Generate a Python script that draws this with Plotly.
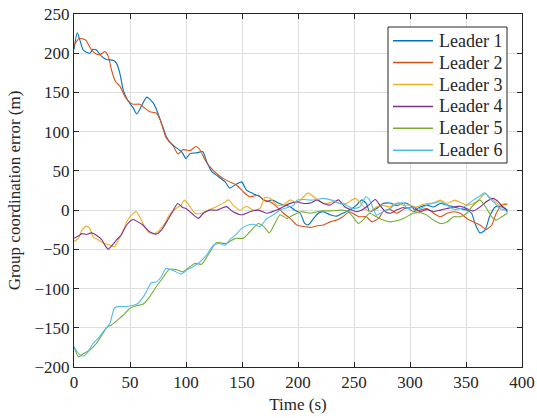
import plotly.graph_objects as go

# ---- data ----
t1 = [0, 3, 8.3, 14, 17, 20, 24.6, 29, 35, 38, 41, 44, 48, 53, 56, 60, 65, 71, 74, 78, 82.5, 85.5, 90, 96, 100, 103.6, 109.5, 115, 118.5, 123, 129, 135, 139, 143.7, 149.7, 154, 160, 166, 172, 176.5, 184, 193, 197, 202, 206, 209, 214, 218, 222.6, 228.6, 234.5, 240, 246, 252, 257, 261, 264, 270, 276, 282, 288, 295.5, 300, 304.5, 309, 315, 321, 327, 333, 339, 345, 350.6, 355, 358, 362.5, 367, 371, 376, 380, 385, 387]
v1 = [205, 226, 204, 200, 205, 204, 196, 192, 191, 187, 174, 153, 140, 130, 122.5, 132, 144, 136, 127, 111, 93.6, 87, 81, 74.5, 66, 72, 73, 74.5, 61.7, 49, 42.6, 36, 28, 32, 36, 25.6, 21, 17, 10.8, 13, 8, 4.4, 0, -4, -17, -19, -10.6, -4, -2, -6, -7.7, -4, 0, 6, 13, 8.5, -2, 2, 8.5, 9, 6, 9, 6.4, 0, 4, 6.4, 4, 8.5, 6.4, 4, 2, 0, -4, -17, -29, -25.5, -8.5, 4, 5, 2, -2]

t2 = [0, 4.7, 8.3, 11, 14, 18.7, 23, 27.6, 30.6, 33.5, 37, 41, 45.4, 50, 53, 58.8, 63, 67.7, 73.6, 77, 82.5, 88.4, 93, 97, 100, 103.6, 109, 112.5, 117, 121.4, 127, 133, 139, 145, 151, 157, 164.6, 169, 175, 181, 187, 193, 199, 205, 211, 217, 222.6, 228.6, 234.5, 240, 246, 251, 255, 261, 266, 272, 276, 282, 288, 291, 297, 303, 309, 315, 321, 327, 333, 339, 345, 350.6, 356.5, 362.5, 368, 373, 377, 382, 387]
v2 = [210, 219, 218, 216, 208, 200, 198, 202, 196, 178.6, 164, 158, 145, 137, 135, 135, 130, 125.5, 123.4, 115, 91.5, 82, 71.5, 77, 76.6, 75.8, 81, 76.6, 64, 55, 47, 40.5, 36, 32, 23.5, 17, 19, 13, 10.8, 4.4, -4, -10.5, -19, -21, -22, -20, -19, -15, -12.7, -8.5, -2, -6, -8.5, -8.5, -15, -10.6, -2, 1, -4, -2, 3.4, -2, 0, 2, -4, -8.5, -4, -2, -4, -10.6, -15, -19, -24.6, -19, -4, 6.4, 7.6]

t3 = [0, 4, 7, 11, 14, 17, 21.6, 26, 32, 36, 39, 44, 48, 52.7, 55.6, 58.6, 63, 67.5, 72, 76, 81, 85, 91, 95.6, 98.5, 101.5, 103.6, 108, 114, 120, 127, 133, 138, 142, 148, 154, 160, 166, 170.5, 175, 181, 187, 193, 199, 205, 209, 214, 220, 225.6, 231.5, 237.5, 243, 251, 255, 260, 264, 270, 276, 282, 288, 294, 300, 305, 310, 315, 321, 327, 333, 340, 346, 350.6, 356.5, 361, 367, 371, 376, 380, 385, 387]
v3 = [-40, -36, -25.5, -20.4, -23, -34, -38, -41.6, -44.6, -46.7, -40, -25.5, -12.7, -4.2, -2, -8.5, -21, -29, -30, -25.5, -17, -6.4, 2, 6.4, 12.7, 8.5, 4.4, -4, -4, 0, 4.4, 8.6, 13, 6.5, 0, 5, 0, 2, 16, 15, 6.5, 6.5, 13, 9, 17, 22, 17, 10.6, 8.5, 10.6, 8.5, 8.5, 15, 10.6, 2, -2, 4, 6, 4, 9, 6, 6.4, 4, 6.4, 8.5, 9, 12.7, 8.5, 12.7, 9, 6.4, 8.5, 12.7, 21, 17, 10.6, 6.4, 8.5, 7]

t4 = [0, 4, 7, 11, 15.7, 20, 24.6, 27.5, 30.5, 33.4, 38, 42, 47, 52.7, 57, 61.5, 67.5, 73.4, 78, 83.7, 88, 92.6, 97, 100, 105, 111, 115.5, 121, 128, 136, 142, 150, 157, 164.6, 172, 181, 187, 193, 199, 205, 211, 217, 222.6, 228.6, 236, 242, 248, 252, 257, 263, 269, 273, 278, 282, 288, 294, 297, 303, 309, 315, 321, 327, 333, 339, 345, 350.6, 356.5, 362.5, 368, 374, 379, 383, 387]
v4 = [-36, -33, -30, -31, -29, -32, -37.4, -44.6, -49.7, -46, -38, -32, -19, -12, -15, -19, -27.6, -30.6, -25.5, -12.7, -2, 8.5, 3.4, 2, -4, -10.5, -4, 0, 0, 4.4, -2, -6, -2, 0, -4, 0, 4.4, 8.6, 10.6, 8.5, 9, 13, 8.5, 6.4, 13, 4, 0, -2, 0, 6.4, 13.6, 6.4, -2, -4, 0, 3.4, 2, 4, -2, 1, -2, 0, 2, 4, 5, 2, -1, 4, 10.6, 15, 10.6, 4, 0]

t5 = [0, 4, 8.3, 14, 20, 26, 29, 33.4, 39, 44, 50, 55.6, 61.5, 67.5, 73.4, 79, 85, 91, 97, 101.5, 108, 114, 121.4, 127, 136, 144, 151, 157, 164.6, 169, 174.4, 178, 184, 190, 196, 203, 211, 217, 222.6, 230, 239, 245, 249, 254, 258, 264, 270, 276, 282, 288, 294, 297, 303, 309, 315, 321, 327, 333, 339, 345, 350.6, 356.5, 362.5, 368.5, 373, 377, 382, 387]
v5 = [-174, -187, -183, -178.5, -170, -157, -149.6, -146.6, -140, -134, -125, -122, -120, -110.5, -97.7, -87, -75.6, -75.6, -78.6, -74.4, -68, -69, -53, -41.7, -42.5, -36, -36, -27.6, -17, -20.4, -29, -21, -6, -10.5, -6, -2, -4, -2, -1, -1, 0, -2, -8.5, -17, -12.7, -4, -8.5, -12.7, -15, -13.6, -10.6, -8.5, -4, -3.4, -6.4, -12.7, -17, -15, -8.5, -8.5, -4, 6.4, 12.7, 2, -8.5, -12.7, -8.5, -4]

t6 = [0, 4, 8.3, 12.7, 17, 21.6, 26, 32, 36, 39, 45, 51, 57, 63, 69, 73.4, 78, 82, 88, 95.6, 100.6, 106.5, 112.5, 118.5, 124.4, 130, 135, 139, 144, 150, 155.6, 160, 166, 172, 178, 184, 190, 196, 199, 205, 211, 217, 222.6, 230, 237.5, 243, 249, 255, 260.7, 264, 270, 276, 282, 288, 294, 297, 303, 309, 315, 321, 327, 333, 339, 345, 350.6, 356.5, 362.5, 367, 371, 376, 380, 385, 387]
v6 = [-174, -183, -186, -180.6, -170, -163.6, -155, -144.5, -125, -123, -123, -122, -119, -108, -93, -91.5, -85, -74.4, -76.5, -81.6, -76.5, -72, -66, -57, -44.6, -42.5, -44.6, -38, -32, -23, -19, -18, -21, -11, -6, 0, 3, 6, 12.7, 13.6, 12.7, 13.6, 15, 12.7, 8.5, 6.4, 2, 4, 17, 12.7, -6.4, -2, 2, 8.5, 9, 2, 4, 2, 6.4, 9, 10.6, 6.4, 1, 2, 6.4, 12.7, 18, 22, 15, 8.5, 2, 0, -3.4]

names = ["Leader 1", "Leader 2", "Leader 3", "Leader 4", "Leader 5", "Leader 6"]
colors = ["#0072BD", "#D95319", "#EDB120", "#7E2F8E", "#77AC30", "#4DBEEE"]
series = [(t1, v1), (t2, v2), (t3, v3), (t4, v4), (t5, v5), (t6, v6)]

x_ticks = [0, 50, 100, 150, 200, 250, 300, 350, 400]
y_ticks = [-200, -150, -100, -50, 0, 50, 100, 150, 200, 250]

FONT = "Liberation Serif"
INK = "#262626"

W, H = 537, 418
ML, MR, MT, MB = 74, 15, 14, 51
PW, PH = W - ML - MR, H - MT - MB

fig = go.Figure()
for (t, v), n, c in zip(series, names, colors):
    fig.add_trace(go.Scatter(x=t, y=v, mode="lines", name=n, showlegend=False,
                             line=dict(color=c, width=1.1, shape="spline", smoothing=0.6)))

axis_common = dict(showline=True, linecolor=INK, linewidth=1, mirror="ticks",
                   ticks="inside", ticklen=5, tickcolor=INK,
                   showgrid=True, gridcolor="#dedede", gridwidth=1, zeroline=False,
                   automargin=False,
                   tickfont=dict(family=FONT, size=17, color=INK))

# ---- legend box drawn in paper coordinates (pixel offsets from plot corner) ----
def px_x(p):
    return p / PW

def px_y(p):
    return 1 - p / PH

box_l, box_r, box_t, box_b = 314, 433, 13, 149
row0, row_step = 26.7, 21.9
ln_l, ln_r, txt_l = 319, 359, 363

shapes = [dict(type="rect", xref="paper", yref="paper",
               x0=px_x(box_l), x1=px_x(box_r), y0=px_y(box_b), y1=px_y(box_t),
               line=dict(color=INK, width=1), fillcolor="white", layer="above")]
annotations = []
for i, (n, c) in enumerate(zip(names, colors)):
    yy = px_y(row0 + i * row_step)
    shapes.append(dict(type="line", xref="paper", yref="paper",
                       x0=px_x(ln_l), x1=px_x(ln_r), y0=yy, y1=yy,
                       line=dict(color=c, width=1.5), layer="above"))
    annotations.append(dict(xref="paper", yref="paper", x=px_x(txt_l), y=yy,
                            text=n, showarrow=False, xanchor="left", yanchor="middle",
                            font=dict(family=FONT, size=18, color=INK)))

fig.update_layout(
    width=W, height=H,
    margin=dict(l=ML, r=MR, t=MT, b=MB),
    paper_bgcolor="white", plot_bgcolor="white",
    font=dict(family=FONT, size=16, color=INK),
    xaxis=dict(range=[0, 400], tickvals=x_ticks,
               title=dict(text="Time (s)", font=dict(family=FONT, size=17), standoff=6),
               **axis_common),
    yaxis=dict(range=[-200, 250], tickvals=y_ticks,
               title=dict(text="Group coordination error (m)", font=dict(family=FONT, size=17), standoff=9),
               **axis_common),
    shapes=shapes,
    annotations=annotations,
    showlegend=False,
)

# remove the browser's default 8px body margin so the figure fills the window
fig.write_html("out.html", config={"displayModeBar": False},
               post_script="document.body.style.margin='0px';")
